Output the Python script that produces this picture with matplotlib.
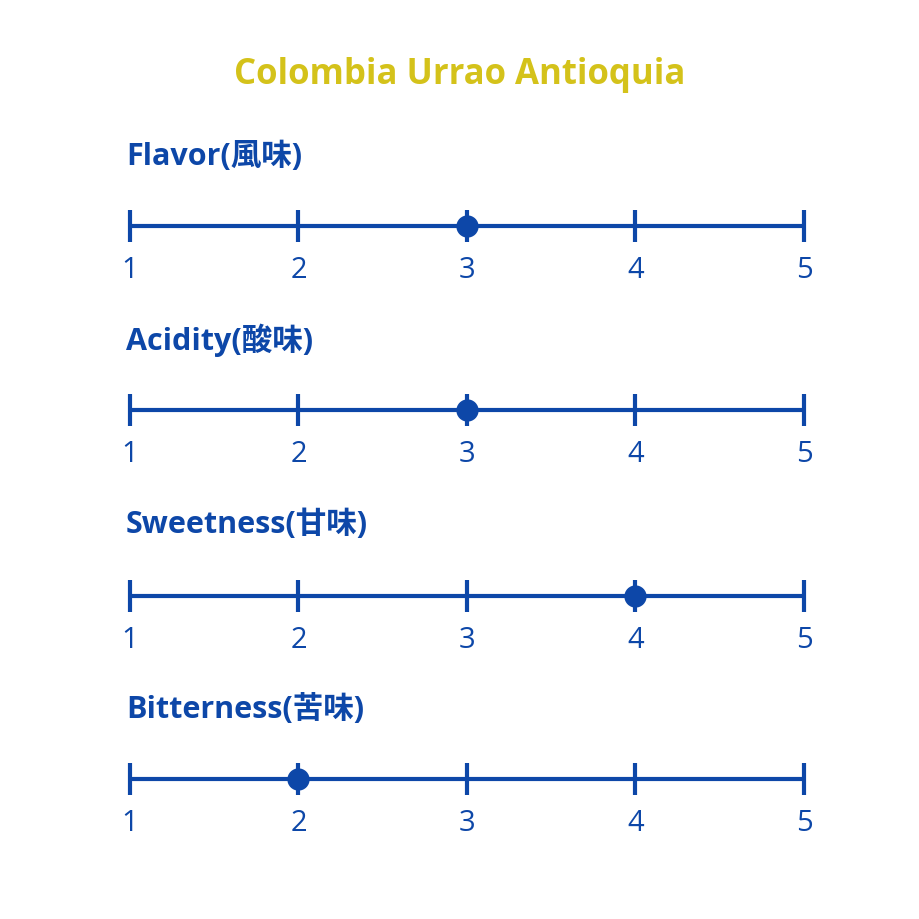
import matplotlib
matplotlib.use('Agg')
import matplotlib.pyplot as plt

plt.rcParams['font.family'] = ['Open Sans', 'Noto Sans CJK JP', 'DejaVu Sans']

title = 'Colombia Urrao Antioquia'
attributes = ['Flavor(風味)', 'Acidity(酸味)', 'Sweetness(甘味)', 'Bitterness(苦味)']
scores = [3, 3, 4, 2]
scale = [1, 2, 3, 4, 5]

blue = '#0d47a8'
gold = '#d4c21a'

W = H = 920
fig = plt.figure(figsize=(9.2, 9.2), dpi=100)
fig.patch.set_facecolor('white')

fig.text(460 / W, 1 - 75 / H, title, color=gold, fontsize=25, fontweight='bold',
         ha='center', va='center')

line_y = [227, 411, 597, 780]
label_y = [157, 340, 525, 710]
x0, x1 = 130, 804

for name, score, ly, ty in zip(attributes, scores, line_y, label_y):
    ax = fig.add_axes([x0 / W, 1 - (ly + 30) / H, (x1 - x0) / W, 60 / H])
    ax.set_xlim(1, 5)
    ax.set_ylim(-1, 1)
    ax.plot([scale[0], scale[-1]], [0, 0], color=blue, lw=3, solid_capstyle='butt',
            clip_on=False)
    ax.plot(scale, [0] * len(scale), ls='none', marker='|', ms=23, mew=3,
            color=blue, clip_on=False)
    ax.plot([score], [0], ls='none', marker='o', ms=15, color=blue, clip_on=False)
    ax.set_xticks(scale)
    ax.set_xticklabels([str(s) for s in scale], fontsize=21, color=blue)
    ax.tick_params(axis='x', length=0, pad=-1)
    ax.set_yticks([])
    for sp in ax.spines.values():
        sp.set_visible(False)
    ax.patch.set_alpha(0)
    fig.text(126 / W, 1 - ty / H, name, color=blue, fontsize=22, fontweight='bold',
             ha='left', va='center')

fig.savefig('out.png', dpi=100)
